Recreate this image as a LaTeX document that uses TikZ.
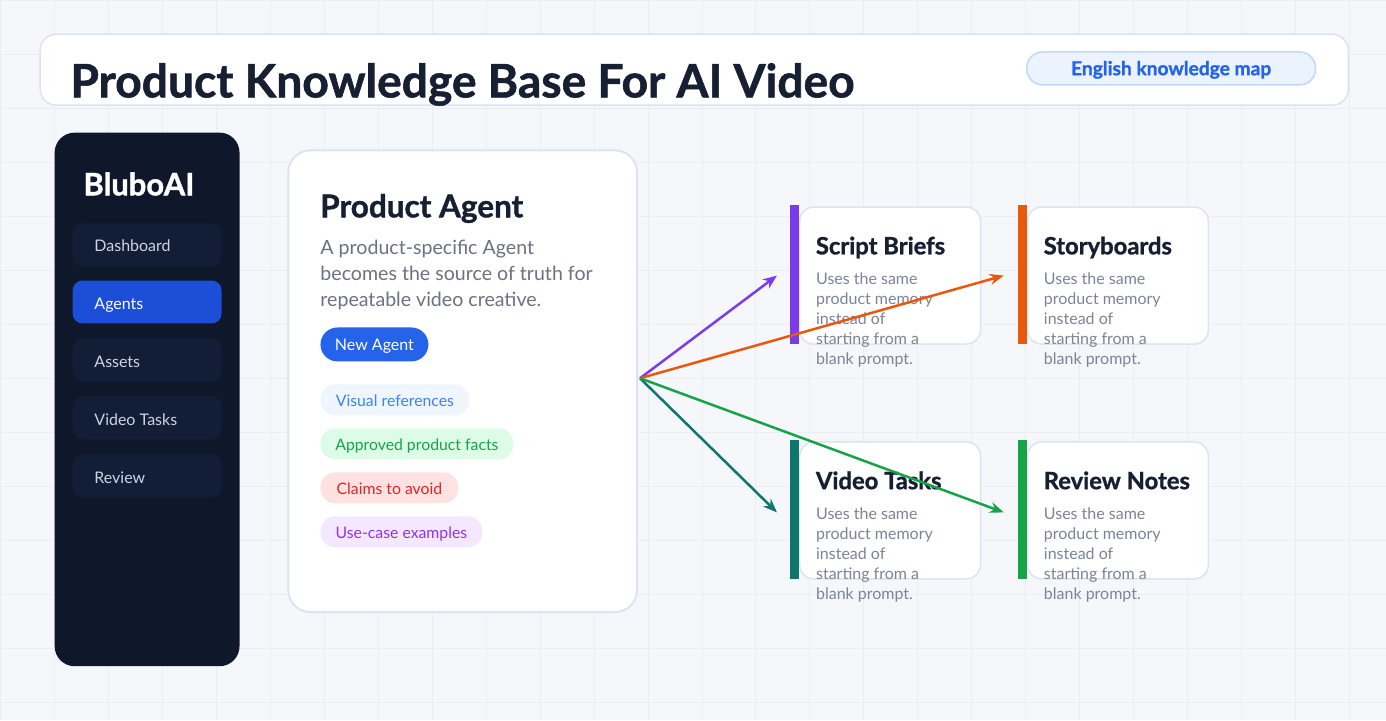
\documentclass[tikz,border=0pt]{standalone}
\usepackage{fontspec}
\setmainfont{Lato}[BoldFeatures={FakeBold=1.2}]
\usetikzlibrary{arrows.meta}
\definecolor{bgc}{HTML}{F5F7FB}
\definecolor{gridc}{HTML}{E9EDF4}
\definecolor{borderc}{HTML}{DCE4F0}
\definecolor{ink}{HTML}{172033}
\definecolor{navy}{HTML}{0F172A}
\definecolor{menuc}{HTML}{121D36}
\definecolor{menutext}{HTML}{CBD5E1}
\definecolor{activec}{HTML}{1D4ED8}
\definecolor{bluec}{HTML}{2563EB}
\definecolor{pillfill}{HTML}{EAF3FF}
\definecolor{pillborder}{HTML}{BFD8FB}
\definecolor{desc}{HTML}{6B7280}
\definecolor{bodyc}{HTML}{7C8495}
\definecolor{purplec}{HTML}{7C3AED}
\definecolor{orangec}{HTML}{EA580C}
\definecolor{tealc}{HTML}{0F766E}
\definecolor{greenc}{HTML}{16A34A}
\definecolor{tagblue}{HTML}{EFF6FF}
\definecolor{tagbluet}{HTML}{3B82F6}
\definecolor{taggreen}{HTML}{DCFCE7}
\definecolor{tagred}{HTML}{FEE2E2}
\definecolor{tagredt}{HTML}{DC2626}
\definecolor{tagpurple}{HTML}{F3E8FF}
\definecolor{tagpurplet}{HTML}{9333EA}
\tikzset{
  txt/.style={anchor=base west, inner sep=0pt, outer sep=0pt},
  menuitem/.style={anchor=north west, fill=menuc, rounded corners=10pt, minimum width=149pt, minimum height=43pt, inner sep=0pt},
  menutxt/.style={txt, text=menutext, font=\fontsize{16}{20}\selectfont},
  tag/.style={anchor=north west, rounded corners=15pt, minimum height=31pt, inner sep=0pt, text height=15pt, text depth=2pt, font=\fontsize{15.8}{18}\selectfont},
  card/.style={anchor=north west, draw=borderc, line width=1.5pt, fill=white, rounded corners=14pt, minimum width=181pt, minimum height=137pt, inner sep=0pt},
  cardtitle/.style={txt, text=ink, font=\bfseries\fontsize{23.8}{28}\selectfont},
  cardbody/.style={anchor=base west, inner sep=0pt, align=left, text=bodyc, font=\fontsize{16}{20}\selectfont},
  flow/.style={line width=2.5pt, -{Stealth[length=14pt,width=11pt]}},
}
\begin{document}
\begin{tikzpicture}[x=1pt,y=-1pt]
\fill[bgc] (0,0) rectangle (1386,720);
\foreach \x in {0,54,...,1386} \draw[gridc, line width=1pt] (\x,0) -- (\x,720);
\foreach \y in {0,54,...,720} \draw[gridc, line width=1pt] (0,\y) -- (1386,\y);
\useasboundingbox (0,0) rectangle (1386,720);

% header
\node[anchor=north west, draw=borderc, line width=1.5pt, fill=white, rounded corners=16pt, minimum width=1309pt, minimum height=71pt, inner sep=0pt] (header) at (39,33) {};
\node[txt, text=ink, font=\bfseries\fontsize{46.2}{52}\selectfont] (title) at (70,97) {Product Knowledge Base For AI Video};
\node[draw=pillborder, line width=1.5pt, fill=pillfill, rounded corners=16pt, minimum width=289pt, minimum height=33pt, inner sep=0pt, text height=17.5pt, text depth=4pt, text=bluec, font=\bfseries\fontsize{19.2}{22}\selectfont] (mappill) at (1171.5,68) {English knowledge map};

% sidebar
\node[anchor=north west, fill=navy, rounded corners=20pt, minimum width=185pt, minimum height=534pt, inner sep=0pt] (sidebar) at (54,132) {};
\node[txt, text=white, font=\bfseries\fontsize{31}{36}\selectfont] (brand) at (83,195) {BluboAI};
\node[menuitem] (m1) at (72,223) {};
\node[menuitem, fill=activec] (m2) at (72,280) {};
\node[menuitem] (m3) at (72,338) {};
\node[menuitem] (m4) at (72,396) {};
\node[menuitem] (m5) at (72,454) {};
\node[menutxt] (m1t) at (94,251) {Dashboard};
\node[menutxt, text=white!92!menutext] (m2t) at (94,309) {Agents};
\node[menutxt] (m3t) at (94,367) {Assets};
\node[menutxt] (m4t) at (94,425) {Video Tasks};
\node[menutxt] (m5t) at (94,483) {Review};

% product agent card
\node[anchor=north west, draw=borderc, line width=2pt, fill=white, rounded corners=22pt, minimum width=349pt, minimum height=462pt, inner sep=0pt] (agent) at (287,149) {};
\node[txt, text=ink, font=\bfseries\fontsize{31.5}{36}\selectfont] (agenttitle) at (320,217) {Product Agent};
\node[anchor=base west, inner sep=0pt, align=left, text=desc, font=\fontsize{19.6}{26}\selectfont] (agentdesc) at (320,306) {A product-specific Agent\\becomes the source of truth for\\repeatable video creative.};
\node[anchor=north west, fill=bluec, rounded corners=17pt, minimum width=108pt, minimum height=34pt, inner sep=0pt, text height=15pt, text depth=2pt, text=white, font=\fontsize{16}{18}\selectfont] (newagent) at (320,327) {New Agent};
\node[tag, fill=tagblue, text=tagbluet, minimum width=149pt] (t1) at (320,384) {Visual references};
\node[tag, fill=taggreen, text=greenc, minimum width=193pt] (t2) at (320,428) {Approved product facts};
\node[tag, fill=tagred, text=tagredt, minimum width=138pt] (t3) at (320,472) {Claims to avoid};
\node[tag, fill=tagpurple, text=tagpurplet, minimum width=162pt] (t4) at (320,516) {Use-case examples};

% output cards
\node[card] (c1) at (799,206) {};
\fill[purplec] (790,205) rectangle (799,344);
\node[cardtitle] (c1t) at (816,254) {Script Briefs};
\node[cardbody] (c1b) at (816,364) {Uses the same\\product memory\\instead of\\starting from a\\blank prompt.};

\node[card] (c2) at (1027,206) {};
\fill[orangec] (1018,205) rectangle (1027,344);
\node[cardtitle] (c2t) at (1044,254) {Storyboards};
\node[cardbody] (c2b) at (1044,364) {Uses the same\\product memory\\instead of\\starting from a\\blank prompt.};

\node[card] (c3) at (799,441) {};
\fill[tealc] (790,440) rectangle (799,579);
\node[cardtitle] (c3t) at (816,489) {Video Tasks};
\node[cardbody] (c3b) at (816,599) {Uses the same\\product memory\\instead of\\starting from a\\blank prompt.};

\node[card] (c4) at (1027,441) {};
\fill[greenc] (1018,440) rectangle (1027,579);
\node[cardtitle] (c4t) at (1044,489) {Review Notes};
\node[cardbody] (c4b) at (1044,599) {Uses the same\\product memory\\instead of\\starting from a\\blank prompt.};

% connectors
\coordinate (hub) at (640,378);
\draw[flow, purplec] (hub) -- ([xshift=-22pt]c1.west);
\draw[flow, orangec] (hub) -- ([xshift=-23pt]c2.west);
\draw[flow, tealc] (hub) -- ([xshift=-22pt,yshift=-2pt]c3.west);
\draw[flow, greenc] (hub) -- ([xshift=-23pt,yshift=-2pt]c4.west);
\end{tikzpicture}
\end{document}
